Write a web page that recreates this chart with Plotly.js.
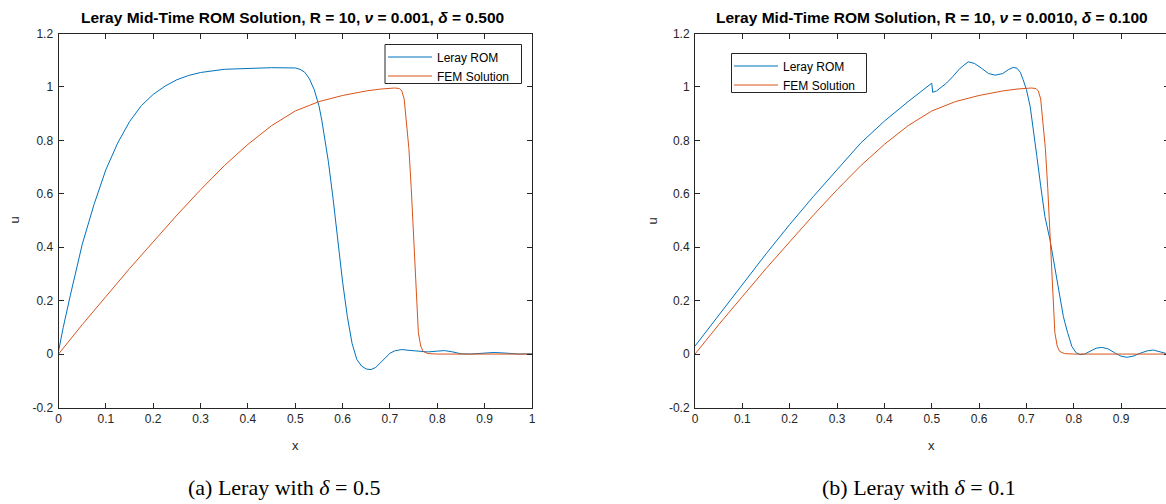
<!DOCTYPE html>
<html>
<head>
<meta charset="utf-8">
<script src="https://cdn.plot.ly/plotly-3.0.1.min.js"></script>
<style>
html,body{margin:0;padding:0;overflow:hidden;background:#fff;width:1166px;height:504px;}
#plot{width:1172px;height:504px;}
</style>
</head>
<body>
<div id="plot"></div>
<script>
// ---- data ----
// FEM solution (same in both panels)
const femX = [0,0.05,0.1,0.15,0.2,0.25,0.3,0.35,0.4,0.45,0.5,0.55,0.6,0.65,0.68,0.7,0.71,0.72,0.725,0.73,0.735,0.74,0.745,0.75,0.755,0.76,0.765,0.77,0.78,0.8,0.9,1];
const femY = [0,0.11,0.215,0.32,0.42,0.52,0.615,0.705,0.785,0.855,0.91,0.945,0.968,0.985,0.992,0.995,0.996,0.994,0.985,0.955,0.87,0.77,0.62,0.43,0.21,0.08,0.03,0.01,0.002,0,0,0];

// Leray ROM, delta = 0.5 (left panel)
const romAX = [0,0.01,0.025,0.05,0.075,0.1,0.125,0.15,0.175,0.2,0.225,0.25,0.275,0.3,0.35,0.4,0.45,0.5,0.51,0.52,0.53,0.54,0.55,0.556,0.57,0.58,0.59,0.6,0.61,0.62,0.63,0.64,0.65,0.66,0.67,0.68,0.69,0.7,0.71,0.725,0.74,0.76,0.78,0.8,0.815,0.83,0.85,0.87,0.89,0.92,0.95,0.97,1];
const romAY = [0.01,0.1,0.22,0.41,0.56,0.69,0.79,0.87,0.93,0.972,1.003,1.027,1.043,1.054,1.066,1.07,1.072,1.071,1.066,1.055,1.03,0.99,0.93,0.876,0.72,0.58,0.42,0.27,0.14,0.04,-0.02,-0.045,-0.056,-0.058,-0.05,-0.032,-0.012,0.003,0.012,0.017,0.014,0.01,0.008,0.011,0.013,0.009,0.001,0.0,0.003,0.006,0.003,0.0,0.001];

// Leray ROM, delta = 0.1 (right panel)
const romBX = [0,0.05,0.1,0.15,0.2,0.25,0.3,0.327,0.35,0.4,0.45,0.5,0.502,0.51,0.52,0.531,0.545,0.56,0.577,0.59,0.605,0.62,0.634,0.65,0.662,0.672,0.68,0.687,0.693,0.7,0.708,0.715,0.722,0.73,0.739,0.75,0.757,0.764,0.771,0.778,0.787,0.796,0.805,0.813,0.823,0.835,0.847,0.859,0.872,0.886,0.9,0.912,0.925,0.94,0.955,0.968,0.98,0.99,1];
const romBY = [0.03,0.145,0.26,0.375,0.485,0.59,0.69,0.745,0.79,0.872,0.945,1.014,0.98,0.985,0.998,1.014,1.04,1.07,1.094,1.088,1.07,1.05,1.044,1.05,1.065,1.073,1.07,1.055,1.027,0.99,0.925,0.84,0.74,0.63,0.515,0.425,0.35,0.277,0.21,0.14,0.08,0.028,0.005,-0.002,0.0,0.012,0.022,0.025,0.02,0.005,-0.008,-0.012,-0.008,0.003,0.012,0.015,0.01,0.004,0.0];

const xTickVals = [0,0.1,0.2,0.3,0.4,0.5,0.6,0.7,0.8,0.9,1];
const xTickText = ['0','0.1','0.2','0.3','0.4','0.5','0.6','0.7','0.8','0.9','1'];
const yTickVals = [-0.2,0,0.2,0.4,0.6,0.8,1,1.2];
const yTickText = ['-0.2','0','0.2','0.4','0.6','0.8','1','1.2'];

const seriesNames = ['Leray ROM','FEM Solution'];
const titles = [
  '<b>Leray Mid-Time ROM Solution, R = 10, <i>ν</i> = 0.001, <i>δ</i> = 0.500</b>',
  '<b>Leray Mid-Time ROM Solution, R = 10, <i>ν</i> = 0.0010, <i>δ</i> = 0.100</b>'
];
const captions = ['(a) Leray with <i>δ</i> = 0.5','(b) Leray with <i>δ</i> = 0.1'];

// ---- layout helpers ----
const W = 1172, H = 504;
const px = v => v / W;
const py = v => 1 - v / H;
const blue = '#0072BD', red = '#D95319', ink = '#262626';
const font = 'Liberation Sans, Arial, Helvetica, sans-serif';

const traces = [
  {x: romAX, y: romAY, name: seriesNames[0], type: 'scatter', mode: 'lines', line: {color: blue, width: 1}, xaxis: 'x', yaxis: 'y', legend: 'legend'},
  {x: femX, y: femY, name: seriesNames[1], type: 'scatter', mode: 'lines', line: {color: red, width: 1}, xaxis: 'x', yaxis: 'y', legend: 'legend'},
  {x: romBX, y: romBY, name: seriesNames[0], type: 'scatter', mode: 'lines', line: {color: blue, width: 1}, xaxis: 'x2', yaxis: 'y2', legend: 'legend2'},
  {x: femX, y: femY, name: seriesNames[1], type: 'scatter', mode: 'lines', line: {color: red, width: 1}, xaxis: 'x2', yaxis: 'y2', legend: 'legend2'}
];

function xax(domain, anchor) {
  return {domain: domain, anchor: anchor, range: [0, 1], tickvals: xTickVals, ticktext: xTickText,
    ticks: 'inside', ticklen: 5, tickwidth: 1, tickcolor: ink, showline: true, linecolor: ink, linewidth: 1,
    mirror: 'allticks', showgrid: false, zeroline: false, tickfont: {family: font, size: 12, color: ink}};
}
function yax(anchor) {
  return {domain: [1 - 407.5 / H, 1 - 33.5 / H], anchor: anchor, range: [-0.2, 1.2], tickvals: yTickVals, ticktext: yTickText,
    ticks: 'inside', ticklen: 5, tickwidth: 1, tickcolor: ink, showline: true, linecolor: ink, linewidth: 1,
    mirror: 'allticks', showgrid: false, zeroline: false, tickfont: {family: font, size: 12, color: ink}, ticklabelstandoff: 2};
}

const ann = [];
const centers = [292, 931.8];
const capCenters = [284, 919];
const uX = [14, 652];
for (let i = 0; i < 2; i++) {
  ann.push({text: titles[i], x: px(centers[i]), y: py(18), xref: 'paper', yref: 'paper', showarrow: false,
    xanchor: 'center', yanchor: 'middle', font: {family: font, size: 15.5, color: '#000'}});
  ann.push({text: 'x', x: px(i === 0 ? 295.3 : 931.8), y: py(445), xref: 'paper', yref: 'paper', showarrow: false,
    xanchor: 'center', yanchor: 'middle', font: {family: font, size: 13, color: ink}});
  ann.push({text: 'u', x: px(uX[i]), y: py(220.5), xref: 'paper', yref: 'paper', showarrow: false, textangle: -90,
    xanchor: 'center', yanchor: 'middle', font: {family: font, size: 13, color: ink}});
  ann.push({text: captions[i], x: px(capCenters[i]), y: py(487), xref: 'paper', yref: 'paper', showarrow: false,
    xanchor: 'center', yanchor: 'middle', font: {family: 'Liberation Serif, DejaVu Serif, serif', size: 22, color: '#000'}});
}

// legend boxes (frames drawn as shapes so their size matches the reference)
const boxes = [[385, 44.5, 521.5, 83.5], [731.5, 53.5, 866.5, 92.5]];
const shapes = boxes.map(b => ({type: 'rect', xref: 'paper', yref: 'paper', layer: 'below',
  x0: px(b[0]), x1: px(b[2]), y0: py(b[3]), y1: py(b[1]),
  line: {color: ink, width: 1}, fillcolor: 'rgba(0,0,0,0)'}));

const legendCommon = {bgcolor: 'rgba(0,0,0,0)', borderwidth: 0, font: {family: font, size: 12, color: '#000'},
  tracegroupgap: 0, itemwidth: 44, xref: 'paper', yref: 'paper', xanchor: 'left', yanchor: 'top'};

const layout = {
  width: W, height: H,
  margin: {l: 0, r: 0, t: 0, b: 0, pad: 0},
  paper_bgcolor: '#fff', plot_bgcolor: 'rgba(0,0,0,0)',
  showlegend: true,
  xaxis: xax([58.5 / W, 532 / W], 'y'),
  yaxis: yax('x'),
  xaxis2: xax([695 / W, 1168.5 / W], 'y2'),
  yaxis2: yax('x2'),
  legend: Object.assign({x: px(383), y: py(42.5)}, legendCommon),
  legend2: Object.assign({x: px(729), y: py(51.5)}, legendCommon),
  shapes: shapes,
  annotations: ann
};

Plotly.newPlot('plot', traces, layout, {staticPlot: true, displayModeBar: false});
</script>
</body>
</html>
